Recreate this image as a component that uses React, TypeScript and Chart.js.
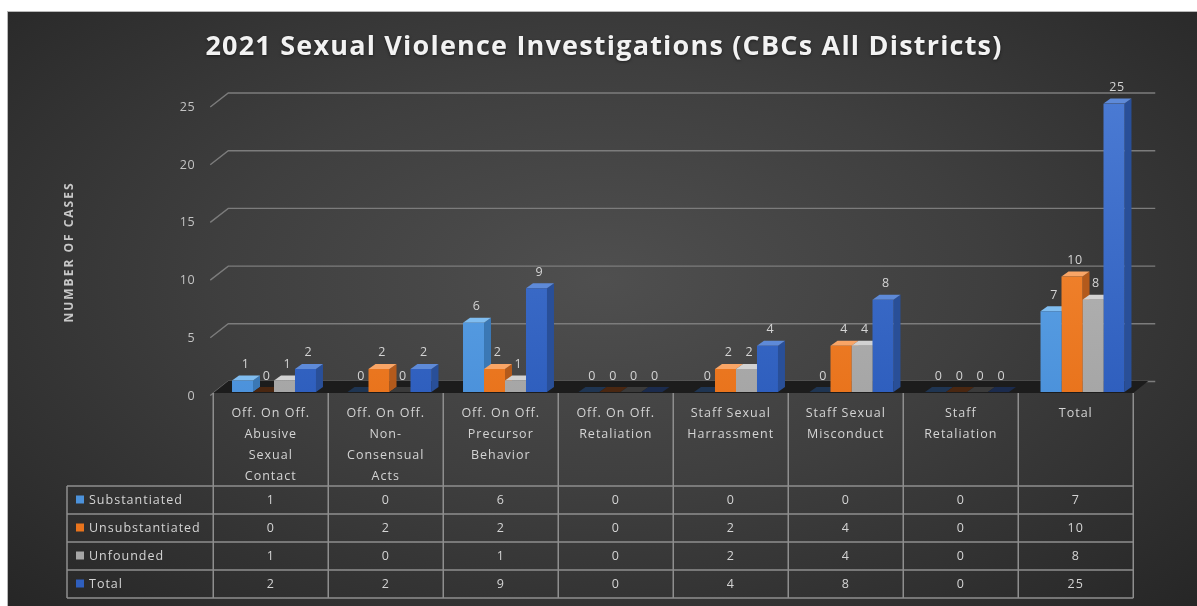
import React, { useEffect, useRef } from "react";
import { Chart, registerables } from "chart.js";

Chart.register(...registerables);

// ---------- data ----------
const titleText = "2021 Sexual Violence Investigations (CBCs All Districts)";
const axisTitleText = "NUMBER OF CASES";
const categories: string[][] = [
  ["Off. On Off.", "Abusive", "Sexual", "Contact"],
  ["Off. On Off.", "Non-", "Consensual", "Acts"],
  ["Off. On Off.", "Precursor", "Behavior"],
  ["Off. On Off.", "Retaliation"],
  ["Staff Sexual", "Harrassment"],
  ["Staff Sexual", "Misconduct"],
  ["Staff", "Retaliation"],
  ["Total"],
];
const seriesNames = ["Substantiated", "Unsubstantiated", "Unfounded", "Total"];
const substantiated = [1, 0, 6, 0, 0, 0, 0, 7];
const unsubstantiated = [0, 2, 2, 0, 2, 4, 0, 10];
const unfounded = [1, 0, 1, 0, 2, 4, 0, 8];
const total = [2, 2, 9, 0, 4, 8, 0, 25];
const yTicks = [0, 5, 10, 15, 20, 25];

// ---------- styles ----------
const FRONT_TOP = ["#6aafee", "#f78f3c", "#bcbcbc", "#4a7ad3"];
const FRONT_BOT = ["#4c92db", "#e9741d", "#a6a6a6", "#2f5fbe"];
const SIDE = ["#3b78b5", "#b35a1c", "#7d7d7d", "#294f98"];
const TOPC = ["#80bdf0", "#f9a566", "#d2d2d2", "#5e8ad8"];
const ZERO = ["#1f3552", "#4a2711", "#3a3a3a", "#1b2b4d"];
const GRID = "#7c7c7c";
const TEXT = "#d4d4d4";
const BAR_DX = 7;
const BAR_DY = -5;

const allSeries = [substantiated, unsubstantiated, unfounded, total];

const threeD = {
  id: "threeD",
  beforeDatasetsDraw(chart: any) {
    const { ctx, chartArea } = chart;
    const y = chart.scales.y;
    ctx.save();
    ctx.strokeStyle = GRID;
    ctx.lineWidth = 1.4;
    yTicks.forEach((v) => {
      const yb = y.getPixelForValue(v) - 10.5;
      ctx.beginPath();
      ctx.moveTo(chartArea.left - 6, yb + 14);
      ctx.lineTo(chartArea.left + 12, yb);
      ctx.lineTo(chartArea.right + 15, yb);
      ctx.stroke();
    });
    const fy = y.getPixelForValue(0) + 1;
    ctx.fillStyle = "#1c1c1c";
    ctx.beginPath();
    ctx.moveTo(chartArea.left - 3, fy);
    ctx.lineTo(chartArea.right - 7, fy);
    ctx.lineTo(chartArea.right + 8, fy - 12);
    ctx.lineTo(chartArea.left + 12, fy - 12);
    ctx.closePath();
    ctx.fill();
    for (let d = 0; d < 4; d++) {
      const meta = chart.getDatasetMeta(d);
      meta.data.forEach((el: any, i: number) => {
        const p = el.getProps(["x", "y", "base", "width"], true);
        const l = p.x - p.width / 2;
        const r = p.x + p.width / 2;
        const top = p.y;
        const base = p.base;
        const v = allSeries[d][i];
        if (base - top > 0.5) {
          ctx.fillStyle = SIDE[d];
          ctx.beginPath();
          ctx.moveTo(r, base);
          ctx.lineTo(r + BAR_DX, base + BAR_DY);
          ctx.lineTo(r + BAR_DX, top + BAR_DY);
          ctx.lineTo(r, top);
          ctx.closePath();
          ctx.fill();
        }
        ctx.fillStyle = v === 0 ? ZERO[d] : TOPC[d];
        ctx.beginPath();
        ctx.moveTo(l, top);
        ctx.lineTo(r, top);
        ctx.lineTo(r + BAR_DX, top + BAR_DY);
        ctx.lineTo(l + BAR_DX, top + BAR_DY);
        ctx.closePath();
        ctx.fill();
      });
    }
    ctx.restore();
  },
  afterDatasetsDraw(chart: any) {
    const { ctx } = chart;
    ctx.save();
    ctx.fillStyle = TEXT;
    ctx.font = "12.5px 'Open Sans'";
    (ctx as any).letterSpacing = "0.6px";
    ctx.textAlign = "center";
    ctx.textBaseline = "middle";
    for (let d = 0; d < 4; d++) {
      const meta = chart.getDatasetMeta(d);
      meta.data.forEach((el: any, i: number) => {
        const p = el.getProps(["x", "y"], true);
        ctx.fillText(String(allSeries[d][i]), p.x + 3, p.y - 16);
      });
    }
    ctx.restore();
  },
  afterDraw(chart: any) {
    const { ctx, chartArea } = chart;
    const y = chart.scales.y;
    ctx.save();
    // title
    ctx.fillStyle = "#f2f2f2";
    ctx.font = "bold 27px 'Open Sans'";
    (ctx as any).letterSpacing = "1.2px";
    ctx.textAlign = "center";
    ctx.textBaseline = "middle";
    ctx.shadowColor = "rgba(0,0,0,0.5)";
    ctx.shadowBlur = 3;
    ctx.shadowOffsetY = 1;
    ctx.fillText(titleText, 596, 35);
    ctx.shadowColor = "transparent";
    // axis title
    ctx.save();
    ctx.translate(62, 240);
    ctx.rotate(-Math.PI / 2);
    ctx.fillStyle = "#c8c8c8";
    ctx.font = "bold 12px 'Open Sans'";
    (ctx as any).letterSpacing = "2px";
    ctx.fillText(axisTitleText, 0, 0);
    ctx.restore();
    // y tick labels
    ctx.fillStyle = "#c4c4c4";
    ctx.font = "12.5px 'Open Sans'";
    (ctx as any).letterSpacing = "0.6px";
    ctx.textAlign = "right";
    yTicks.forEach((v) => {
      ctx.fillText(String(v), chartArea.left - 21, y.getPixelForValue(v) + 4);
    });
    // data table
    const tl = chartArea.left - 3;
    const colW = (chartArea.width - 4) / 8;
    const tr = tl + colW * 8;
    const top = y.getPixelForValue(0) + 1;
    const headBot = top + 93;
    const rowH = 28;
    const legL = 59;
    ctx.strokeStyle = "#8e8e8e";
    ctx.lineWidth = 1.5;
    ctx.beginPath();
    for (let c = 0; c <= 8; c++) {
      const x = tl + c * colW;
      ctx.moveTo(x, top);
      ctx.lineTo(x, headBot + rowH * 4);
    }
    ctx.moveTo(legL, headBot);
    ctx.lineTo(legL, headBot + rowH * 4);
    for (let r = 0; r <= 4; r++) {
      const yy = headBot + r * rowH;
      ctx.moveTo(legL, yy);
      ctx.lineTo(tr, yy);
    }
    ctx.stroke();
    ctx.fillStyle = TEXT;
    ctx.font = "12.5px 'Open Sans'";
    (ctx as any).letterSpacing = "1px";
    ctx.textAlign = "center";
    categories.forEach((lines, c) => {
      const cx = tl + (c + 0.5) * colW;
      lines.forEach((ln, k) => ctx.fillText(ln, cx, top + 20 + k * 21));
      allSeries.forEach((s, r) => {
        ctx.fillText(String(s[c]), cx, headBot + (r + 0.5) * rowH);
      });
    });
    ctx.textAlign = "left";
    seriesNames.forEach((n, r) => {
      const cy = headBot + (r + 0.5) * rowH;
      ctx.fillStyle = FRONT_BOT[r];
      ctx.fillRect(68, cy - 4.5, 8, 8);
      ctx.fillStyle = TEXT;
      ctx.fillText(n, 81, cy);
    });
    ctx.restore();
  },
};

export default function App() {
  const ref = useRef<HTMLCanvasElement>(null);
  useEffect(() => {
    if (!ref.current) return;
    const grad = (d: number) => (c: any) => {
      const { ctx, chartArea } = c.chart;
      if (!chartArea) return FRONT_BOT[d];
      const g = ctx.createLinearGradient(0, chartArea.top, 0, chartArea.bottom);
      g.addColorStop(0, FRONT_TOP[d]);
      g.addColorStop(1, FRONT_BOT[d]);
      return g;
    };
    const chart = new Chart(ref.current, {
      type: "bar",
      data: {
        labels: categories.map((c) => c.join(" ")),
        datasets: allSeries.map((s, d) => ({
          label: seriesNames[d],
          data: s,
          backgroundColor: grad(d),
          borderWidth: 0,
          barPercentage: 1,
          categoryPercentage: 0.727,
        })),
      },
      options: {
        animation: false,
        responsive: true,
        maintainAspectRatio: false,
        layout: { padding: { left: 208.25, right: 56.75, top: 91.5, bottom: 214 } },
        plugins: { legend: { display: false }, title: { display: false }, tooltip: { enabled: false } },
        scales: {
          x: { display: false },
          y: { display: false, min: 0, max: 25, ticks: { stepSize: 5 } },
        },
      },
      plugins: [threeD],
    });
    return () => chart.destroy();
  }, []);
  return (
    <div
      style={{
        position: "fixed",
        left: 8,
        top: 12,
        width: 1189,
        height: 594,
        outline: "1px solid #b8b8b8",
        background: "radial-gradient(ellipse farthest-corner at 50% 45%, #4f4f4f 0%, #3f3f3f 45%, #262626 100%)",
      }}
    >
      <canvas ref={ref} style={{ display: "block" }} />
    </div>
  );
}
